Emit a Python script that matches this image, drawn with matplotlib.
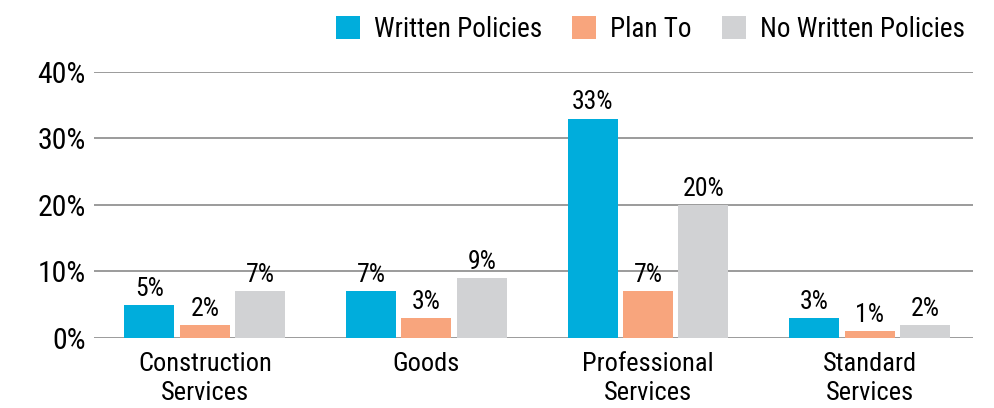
import numpy as np
import matplotlib
matplotlib.use("Agg")
import matplotlib.pyplot as plt

plt.rcParams['font.family'] = ['Roboto Condensed', 'Archivo Narrow', 'DejaVu Sans']

categories = ['Construction\nServices', 'Goods', 'Professional\nServices', 'Standard\nServices']
written = [5, 7, 33, 3]
plan_to = [2, 3, 7, 1]
no_written = [7, 9, 20, 2]
series_names = ['Written Policies', 'Plan To', 'No Written Policies']
colors = ['#00ADDC', '#F8A57D', '#D1D2D4']

fig = plt.figure(figsize=(9.94, 4.08), dpi=100)
ax = fig.add_axes([0.0946, 0.1716, 0.884, 0.652])

x = np.arange(len(categories))
width = 0.2255
step = 0.25
bars = []
for i, (vals, col, name) in enumerate(zip([written, plan_to, no_written], colors, series_names)):
    b = ax.bar(x + (i - 1) * step, vals, width, color=col, label=name, zorder=3)
    bars.append(b)
    for rect, v in zip(b, vals):
        ax.annotate(f'{v}%', (rect.get_x() + rect.get_width() / 2, v),
                    xytext=(0, 3), textcoords='offset points',
                    ha='center', va='bottom', fontsize=18.5, zorder=4)

ax.set_ylim(0, 40)
ax.set_xlim(-0.5, 3.465)
ax.set_yticks([0, 10, 20, 30, 40])
ax.set_yticklabels([f'{t}%' for t in [0, 10, 20, 30, 40]], fontsize=21.5)
ax.set_xticks(x)
ax.set_xticklabels(categories, fontsize=19, linespacing=1.28)
ax.tick_params(axis='both', length=0)
ax.tick_params(axis='y', pad=6)
ax.tick_params(axis='x', pad=10)
ax.grid(axis='y', color='#808080', linewidth=1.1, zorder=0)
for s in ax.spines.values():
    s.set_visible(False)

fig.legend(handles=bars, labels=series_names, loc='center', bbox_to_anchor=(0.6544, 0.9277),
           ncol=3, frameon=False, fontsize=19.5, handlelength=0.885, handleheight=0.9,
           handletextpad=0.52, columnspacing=1.1, borderpad=0)

fig.savefig('out.png', dpi=100)
